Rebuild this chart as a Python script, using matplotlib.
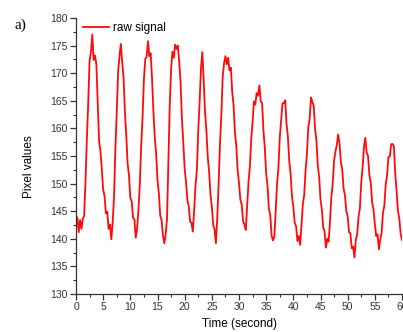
import numpy as np
import matplotlib
matplotlib.use("Agg")
import matplotlib.pyplot as plt
from matplotlib.ticker import MultipleLocator

# raw pixel trace, one sample every 0.25 s
dt = 0.25
pixel = [
    142.6, 143.9, 141.2, 143.4, 141.8, 143.6, 144.2, 150.5,
    158.2, 164.6, 172.3, 173.8, 177.0, 172.4, 173.2, 171.6,
    164.8, 157.6, 155.9, 152.6, 148.9, 147.8, 144.6, 144.9,
    141.8, 142.6, 139.9, 143.0, 147.6, 156.4, 163.0, 170.2,
    173.1, 175.3, 172.0, 169.3, 163.0, 158.7, 153.6, 151.5,
    147.4, 146.8, 143.8, 143.5, 140.2, 141.9, 145.3, 150.1,
    156.9, 162.0, 168.9, 172.6, 173.0, 175.8, 173.1, 173.6,
    168.9, 163.0, 158.3, 155.4, 150.6, 148.3, 144.2, 143.4,
    140.6, 139.2, 140.8, 143.6, 153.8, 164.1, 170.8, 173.9,
    172.8, 175.2, 174.4, 175.0, 172.0, 168.3, 161.6, 157.4,
    152.7, 150.3, 147.0, 145.9, 143.1, 142.9, 141.3, 145.2,
    149.8, 152.4, 159.6, 164.8, 170.9, 173.8, 168.8, 162.9,
    159.6, 154.8, 152.1, 148.0, 145.9, 142.5, 141.7, 139.2,
    143.8, 150.0, 157.2, 162.4, 169.3, 171.8, 173.1, 171.6,
    172.8, 170.5, 171.0, 166.6, 164.2, 159.3, 156.9, 152.4,
    150.1, 147.1, 146.2, 143.2, 142.6, 141.6, 145.8, 150.3,
    153.0, 158.1, 161.2, 164.9, 164.3, 166.4, 165.9, 167.8,
    164.9, 164.6, 159.6, 156.5, 151.8, 149.6, 145.4, 144.3,
    140.6, 139.7, 140.4, 144.9, 149.9, 152.8, 158.3, 161.4,
    164.5, 164.6, 165.1, 160.8, 158.5, 154.0, 151.8, 147.6,
    145.8, 142.9, 142.3, 139.6, 140.5, 138.9, 142.4, 146.3,
    147.9, 152.4, 155.3, 160.2, 161.7, 165.6, 164.8, 164.1,
    160.0, 157.8, 153.3, 151.2, 147.1, 145.3, 142.1, 141.3,
    138.4, 140.0, 139.5, 143.2, 147.6, 150.0, 154.2, 155.8,
    157.0, 158.9, 157.3, 153.9, 152.6, 149.1, 147.9, 145.0,
    144.1, 141.2, 141.0, 138.3, 138.6, 136.6, 139.8, 140.8,
    144.0, 145.5, 150.2, 153.0, 156.6, 158.3, 155.6, 155.0,
    151.5, 150.2, 146.6, 145.3, 142.7, 140.5, 140.8, 138.1,
    139.9, 141.1, 144.8, 146.0, 149.8, 151.5, 154.8, 154.9,
    157.1, 157.2, 156.8, 151.9, 148.7, 145.1, 143.7, 140.9,
    139.8,
]
time = np.arange(len(pixel)) * dt

plt.rcParams['font.family'] = ['Liberation Sans', 'DejaVu Sans']

fig = plt.figure(figsize=(4.03, 3.32), dpi=100)
ax = fig.add_axes([76 / 403, 38 / 332, 326 / 403, 276 / 332])

ax.plot(time, pixel, color='#ff0a0a', lw=1.3, label='raw signal')

ax.set_xlim(0, 60)
ax.set_ylim(130, 180)
ax.xaxis.set_major_locator(MultipleLocator(5))
ax.xaxis.set_minor_locator(MultipleLocator(2.5))
ax.yaxis.set_major_locator(MultipleLocator(5))
ax.yaxis.set_minor_locator(MultipleLocator(2.5))
ax.tick_params(which='major', direction='out', length=4, width=0.9, labelsize=7.5, pad=2, colors='#333333')
ax.tick_params(which='minor', direction='out', length=2, width=0.8, colors='#333333')

for side in ['top', 'right']:
    ax.spines[side].set_visible(False)
for side in ['left', 'bottom']:
    ax.spines[side].set_linewidth(0.9)
    ax.spines[side].set_color('#333333')

ax.set_xlabel('Time (second)', fontsize=8.5, labelpad=4)
ax.set_ylabel('Pixel values', fontsize=8.5)
ax.yaxis.set_label_coords(-0.125, 0.46)

ax.legend(loc='upper left', bbox_to_anchor=(0.0, 1.01), frameon=False,
          fontsize=8.5, handlelength=2.2, handletextpad=0.3, borderaxespad=0.2)

fig.text(15 / 403, 1 - 25 / 332, 'a)', family='Liberation Serif', fontsize=11, va='center')

fig.savefig('out.png', dpi=100)
